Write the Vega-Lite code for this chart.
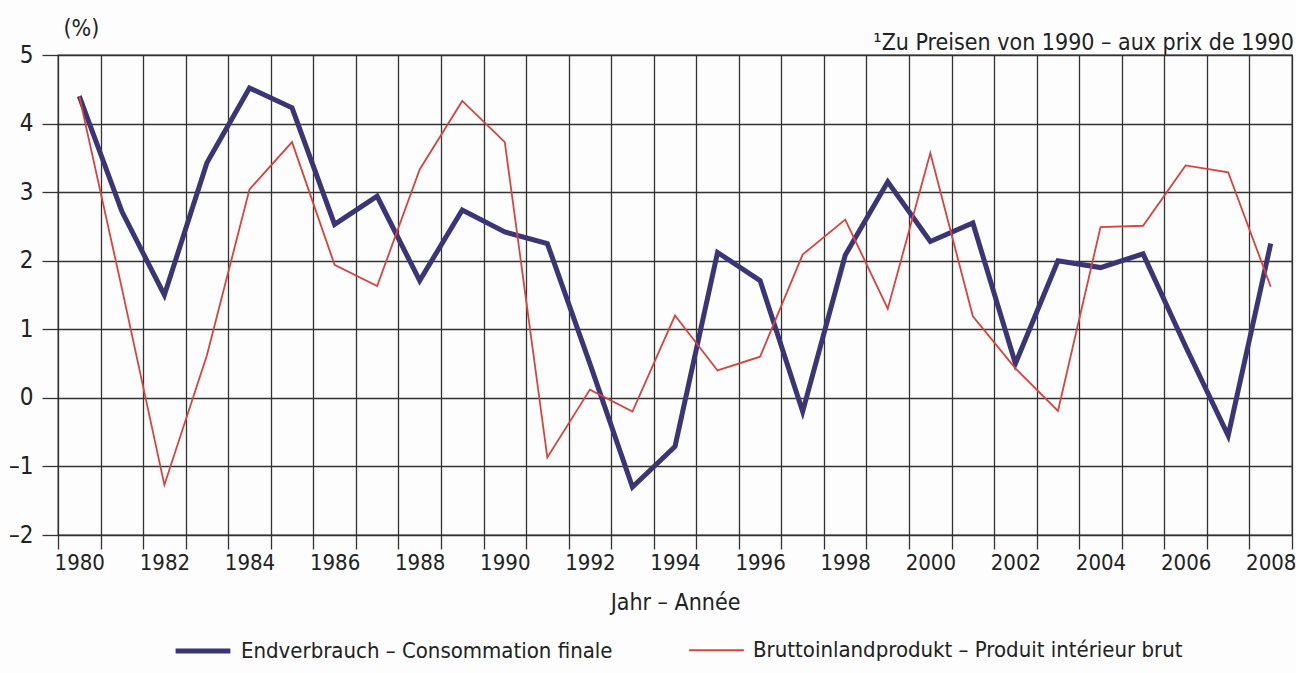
{
  "$schema": "https://vega.github.io/schema/vega-lite/v6.json",
  "autosize": "none",
  "width": 1234,
  "height": 480,
  "padding": {"left": 58, "top": 55, "right": 4, "bottom": 138},
  "background": "#fdfdfd",
  "config": {
    "font": "Liberation Sans Narrow, DejaVu Sans Condensed, Roboto Condensed, Roboto, sans-serif",
    "view": {"stroke": "#333333", "strokeWidth": 1.3},
    "axis": {"labelColor": "#222222", "titleColor": "#222222", "labelFont": "Liberation Sans Narrow, DejaVu Sans Condensed, Roboto Condensed, Roboto, sans-serif", "titleFont": "Liberation Sans Narrow, DejaVu Sans Condensed, Roboto Condensed, Roboto, sans-serif"},
    "legend": {"labelFont": "Liberation Sans Narrow, DejaVu Sans Condensed, Roboto Condensed, Roboto, sans-serif"},
    "title": {"font": "Liberation Sans Narrow, DejaVu Sans Condensed, Roboto Condensed, Roboto, sans-serif"}
  },
  "title": {
    "text": "¹Zu Preisen von 1990 – aux prix de 1990",
    "anchor": "end",
    "orient": "top",
    "offset": 7,
    "dy": 45,
    "dx": -2,
    "fontSize": 23,
    "fontWeight": "normal",
    "color": "#222222"
  },
  "data": {
    "values": [
      {"year": 1980, "series": "Endverbrauch – Consommation finale", "value": 4.4},
      {"year": 1981, "series": "Endverbrauch – Consommation finale", "value": 2.72},
      {"year": 1982, "series": "Endverbrauch – Consommation finale", "value": 1.5},
      {"year": 1983, "series": "Endverbrauch – Consommation finale", "value": 3.43},
      {"year": 1984, "series": "Endverbrauch – Consommation finale", "value": 4.52},
      {"year": 1985, "series": "Endverbrauch – Consommation finale", "value": 4.23},
      {"year": 1986, "series": "Endverbrauch – Consommation finale", "value": 2.53},
      {"year": 1987, "series": "Endverbrauch – Consommation finale", "value": 2.94},
      {"year": 1988, "series": "Endverbrauch – Consommation finale", "value": 1.71},
      {"year": 1989, "series": "Endverbrauch – Consommation finale", "value": 2.74},
      {"year": 1990, "series": "Endverbrauch – Consommation finale", "value": 2.42},
      {"year": 1991, "series": "Endverbrauch – Consommation finale", "value": 2.25},
      {"year": 1992, "series": "Endverbrauch – Consommation finale", "value": 0.5},
      {"year": 1993, "series": "Endverbrauch – Consommation finale", "value": -1.3},
      {"year": 1994, "series": "Endverbrauch – Consommation finale", "value": -0.71},
      {"year": 1995, "series": "Endverbrauch – Consommation finale", "value": 2.12},
      {"year": 1996, "series": "Endverbrauch – Consommation finale", "value": 1.71},
      {"year": 1997, "series": "Endverbrauch – Consommation finale", "value": -0.2},
      {"year": 1998, "series": "Endverbrauch – Consommation finale", "value": 2.08},
      {"year": 1999, "series": "Endverbrauch – Consommation finale", "value": 3.15},
      {"year": 2000, "series": "Endverbrauch – Consommation finale", "value": 2.28},
      {"year": 2001, "series": "Endverbrauch – Consommation finale", "value": 2.55},
      {"year": 2002, "series": "Endverbrauch – Consommation finale", "value": 0.5},
      {"year": 2003, "series": "Endverbrauch – Consommation finale", "value": 2.0},
      {"year": 2004, "series": "Endverbrauch – Consommation finale", "value": 1.9},
      {"year": 2005, "series": "Endverbrauch – Consommation finale", "value": 2.1},
      {"year": 2006, "series": "Endverbrauch – Consommation finale", "value": 0.75},
      {"year": 2007, "series": "Endverbrauch – Consommation finale", "value": -0.55},
      {"year": 2008, "series": "Endverbrauch – Consommation finale", "value": 2.25},
      {"year": 1980, "series": "Bruttoinlandprodukt – Produit intérieur brut", "value": 4.4},
      {"year": 1981, "series": "Bruttoinlandprodukt – Produit intérieur brut", "value": 1.6},
      {"year": 1982, "series": "Bruttoinlandprodukt – Produit intérieur brut", "value": -1.27},
      {"year": 1983, "series": "Bruttoinlandprodukt – Produit intérieur brut", "value": 0.62},
      {"year": 1984, "series": "Bruttoinlandprodukt – Produit intérieur brut", "value": 3.04},
      {"year": 1985, "series": "Bruttoinlandprodukt – Produit intérieur brut", "value": 3.73},
      {"year": 1986, "series": "Bruttoinlandprodukt – Produit intérieur brut", "value": 1.94},
      {"year": 1987, "series": "Bruttoinlandprodukt – Produit intérieur brut", "value": 1.63},
      {"year": 1988, "series": "Bruttoinlandprodukt – Produit intérieur brut", "value": 3.33},
      {"year": 1989, "series": "Bruttoinlandprodukt – Produit intérieur brut", "value": 4.33},
      {"year": 1990, "series": "Bruttoinlandprodukt – Produit intérieur brut", "value": 3.73},
      {"year": 1991, "series": "Bruttoinlandprodukt – Produit intérieur brut", "value": -0.87},
      {"year": 1992, "series": "Bruttoinlandprodukt – Produit intérieur brut", "value": 0.12},
      {"year": 1993, "series": "Bruttoinlandprodukt – Produit intérieur brut", "value": -0.2},
      {"year": 1994, "series": "Bruttoinlandprodukt – Produit intérieur brut", "value": 1.2},
      {"year": 1995, "series": "Bruttoinlandprodukt – Produit intérieur brut", "value": 0.4},
      {"year": 1996, "series": "Bruttoinlandprodukt – Produit intérieur brut", "value": 0.6},
      {"year": 1997, "series": "Bruttoinlandprodukt – Produit intérieur brut", "value": 2.09},
      {"year": 1998, "series": "Bruttoinlandprodukt – Produit intérieur brut", "value": 2.6},
      {"year": 1999, "series": "Bruttoinlandprodukt – Produit intérieur brut", "value": 1.3},
      {"year": 2000, "series": "Bruttoinlandprodukt – Produit intérieur brut", "value": 3.57},
      {"year": 2001, "series": "Bruttoinlandprodukt – Produit intérieur brut", "value": 1.19},
      {"year": 2002, "series": "Bruttoinlandprodukt – Produit intérieur brut", "value": 0.43},
      {"year": 2003, "series": "Bruttoinlandprodukt – Produit intérieur brut", "value": -0.19},
      {"year": 2004, "series": "Bruttoinlandprodukt – Produit intérieur brut", "value": 2.49},
      {"year": 2005, "series": "Bruttoinlandprodukt – Produit intérieur brut", "value": 2.51},
      {"year": 2006, "series": "Bruttoinlandprodukt – Produit intérieur brut", "value": 3.39},
      {"year": 2007, "series": "Bruttoinlandprodukt – Produit intérieur brut", "value": 3.29},
      {"year": 2008, "series": "Bruttoinlandprodukt – Produit intérieur brut", "value": 1.62}
    ]
  },
  "mark": {"type": "line", "strokeJoin": "miter", "strokeCap": "butt"},
  "encoding": {
    "x": {
      "field": "year",
      "type": "ordinal",
      "bandPosition": 0.5,
      "scale": {"type": "band", "paddingInner": 0, "paddingOuter": 0},
      "axis": {
        "tickBand": "extent",
        "grid": true,
        "gridColor": "#333333",
        "gridWidth": 1.3,
        "gridOpacity": 1,
        "domain": false,
        "ticks": true,
        "tickColor": "#333333",
        "tickWidth": 1.3,
        "tickSize": 14,
        "labelAngle": 0,
        "labelFontSize": 22,
        "labelPadding": 3,
        "labelExpr": "datum.value % 2 === 0 ? datum.label : ''",
        "title": "Jahr – Année",
        "titleFontSize": 23,
        "titleFontWeight": "normal",
        "titlePadding": 18
      }
    },
    "y": {
      "field": "value",
      "type": "quantitative",
      "scale": {"domain": [-2, 5], "nice": false, "zero": false},
      "axis": {
        "values": [-2, -1, 0, 1, 2, 3, 4, 5],
        "grid": true,
        "gridColor": "#333333",
        "gridWidth": 1.3,
        "gridOpacity": 1,
        "domain": false,
        "tickColor": "#333333",
        "tickWidth": 1.3,
        "tickSize": 16,
        "labelFontSize": 24,
        "labelPadding": 9,
        "labelExpr": "replace(datum.label, '−', '–')",
        "title": "(%)",
        "titleAngle": 0,
        "titleAlign": "left",
        "titleBaseline": "alphabetic",
        "titleX": 5,
        "titleY": -20,
        "titleFontSize": 23,
        "titleFontWeight": "normal"
      }
    },
    "color": {
      "field": "series",
      "type": "nominal",
      "scale": {
        "domain": ["Endverbrauch – Consommation finale", "Bruttoinlandprodukt – Produit intérieur brut"],
        "range": ["#3b3576", "#d6443f"]
      },
      "legend": {
        "title": null,
        "orient": "none",
        "legendX": 115,
        "legendY": 566,
        "direction": "horizontal",
        "columnPadding": 72,
        "symbolType": "stroke",
        "symbolSize": 3000,
        "labelFontSize": 22,
        "labelColor": "#222222",
        "labelLimit": 600,
        "labelOffset": 8
      }
    },
    "strokeWidth": {
      "field": "series",
      "type": "nominal",
      "scale": {
        "domain": ["Endverbrauch – Consommation finale", "Bruttoinlandprodukt – Produit intérieur brut"],
        "range": [5, 1.8]
      },
      "legend": null
    }
  }
}
